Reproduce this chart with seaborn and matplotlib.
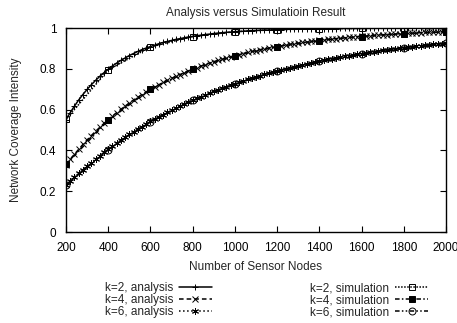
import numpy as np
import pandas as pd
import seaborn as sns
import matplotlib.pyplot as plt

# analysis curves, one point every 20 nodes from 200 to 2000
nodes_analysis = list(range(200, 2001, 20))
k2_analysis = [0.551, 0.585, 0.617, 0.647, 0.674, 0.699, 0.722, 0.743, 0.763, 0.781,
               0.798, 0.814, 0.828, 0.841, 0.853, 0.865, 0.875, 0.885, 0.894, 0.902,
               0.909, 0.916, 0.923, 0.929, 0.934, 0.939, 0.944, 0.948, 0.952, 0.956,
               0.959, 0.962, 0.965, 0.968, 0.970, 0.973, 0.975, 0.977, 0.979, 0.980,
               0.982, 0.983, 0.984, 0.986, 0.987, 0.988, 0.989, 0.990, 0.990, 0.991,
               0.992, 0.992, 0.993, 0.994, 0.994, 0.995, 0.995, 0.995, 0.996, 0.996,
               0.996, 0.997, 0.997, 0.997, 0.997, 0.998, 0.998, 0.998, 0.998, 0.998,
               0.998, 0.998, 0.999, 0.999, 0.999, 0.999, 0.999, 0.999, 0.999, 0.999,
               0.999, 0.999, 0.999, 0.999, 1.000, 1.000, 1.000, 1.000, 1.000, 1.000, 1.000]
k4_analysis = [0.330, 0.356, 0.381, 0.405, 0.429, 0.451, 0.473, 0.493, 0.513, 0.532,
               0.551, 0.568, 0.585, 0.601, 0.617, 0.632, 0.647, 0.660, 0.674, 0.687,
               0.699, 0.711, 0.722, 0.733, 0.743, 0.753, 0.763, 0.772, 0.781, 0.790,
               0.798, 0.806, 0.814, 0.821, 0.828, 0.835, 0.841, 0.847, 0.853, 0.859,
               0.865, 0.870, 0.875, 0.880, 0.885, 0.889, 0.894, 0.898, 0.902, 0.906,
               0.909, 0.913, 0.916, 0.920, 0.923, 0.926, 0.929, 0.931, 0.934, 0.937,
               0.939, 0.942, 0.944, 0.946, 0.948, 0.950, 0.952, 0.954, 0.956, 0.958,
               0.959, 0.961, 0.962, 0.964, 0.965, 0.967, 0.968, 0.969, 0.970, 0.972,
               0.973, 0.974, 0.975, 0.976, 0.977, 0.978, 0.979, 0.979, 0.980, 0.981, 0.982]
k6_analysis = [0.229, 0.249, 0.268, 0.287, 0.305, 0.323, 0.340, 0.357, 0.374, 0.390,
               0.405, 0.421, 0.436, 0.450, 0.464, 0.478, 0.491, 0.504, 0.517, 0.530,
               0.542, 0.553, 0.565, 0.576, 0.587, 0.597, 0.608, 0.618, 0.628, 0.637,
               0.647, 0.656, 0.664, 0.673, 0.681, 0.690, 0.697, 0.705, 0.713, 0.720,
               0.727, 0.734, 0.741, 0.748, 0.754, 0.761, 0.767, 0.773, 0.779, 0.784,
               0.790, 0.795, 0.801, 0.806, 0.811, 0.815, 0.820, 0.825, 0.829, 0.834,
               0.838, 0.842, 0.846, 0.850, 0.854, 0.858, 0.861, 0.865, 0.868, 0.871,
               0.875, 0.878, 0.881, 0.884, 0.887, 0.890, 0.893, 0.896, 0.898, 0.901,
               0.904, 0.906, 0.909, 0.911, 0.913, 0.915, 0.918, 0.920, 0.922, 0.924, 0.926]

# simulation points every 200 nodes
nodes_sim = [200, 400, 600, 800, 1000, 1200, 1400, 1600, 1800, 2000]
k2_sim = [0.552, 0.795, 0.907, 0.958, 0.982, 0.992, 0.996, 0.998, 0.999, 1.000]
k4_sim = [0.331, 0.547, 0.700, 0.797, 0.864, 0.908, 0.938, 0.958, 0.972, 0.981]
k6_sim = [0.230, 0.404, 0.541, 0.646, 0.727, 0.790, 0.838, 0.875, 0.903, 0.925]

xticks = [200, 400, 600, 800, 1000, 1200, 1400, 1600, 1800, 2000]
yticks = [0, 0.2, 0.4, 0.6, 0.8, 1]
ytick_labels = ['0', '0.2', '0.4', '0.6', '0.8', '1']

FS = 8.5
sns.set_style('ticks')
plt.rcParams['font.family'] = ['Liberation Sans', 'DejaVu Sans']
plt.rcParams['font.size'] = FS

fig = plt.figure(figsize=(4.57, 3.23), dpi=100)
ax = fig.add_axes([0.1444, 0.2817, 0.8315, 0.6316])

series = [
    ('k=2, analysis', nodes_analysis, k2_analysis, '-', '+', 'none'),
    ('k=4, analysis', nodes_analysis, k4_analysis, (0, (3, 2)), 'x', 'none'),
    ('k=6, analysis', nodes_analysis, k6_analysis, ':', (6, 2, 0), 'none'),
    ('k=2, simulation', nodes_sim, k2_sim, (0, (1, 1)), 's', 'none'),
    ('k=4, simulation', nodes_sim, k4_sim, (0, (3, 1.5, 1, 1.5)), 's', 'black'),
    ('k=6, simulation', nodes_sim, k6_sim, (0, (3, 1.5, 1, 1.5, 1, 1.5)), 'o', 'none'),
]

handles = []
for label, xs, ys, ls, mk, fc in series:
    df = pd.DataFrame({'nodes': xs, 'coverage': ys})
    sns.lineplot(data=df, x='nodes', y='coverage', ax=ax, color='black',
                 linestyle=ls, linewidth=1.1, marker=mk, markersize=5,
                 markerfacecolor=fc, markeredgecolor='black', markeredgewidth=0.7,
                 label=label, legend=False)
    handles.append(ax.lines[-1])

ax.set_xlim(200, 2000)
ax.set_ylim(0, 1)
ax.set_xticks(xticks)
ax.set_yticks(yticks)
ax.set_yticklabels(ytick_labels)
ax.tick_params(direction='in', top=True, right=True, length=4, width=0.8,
               labelsize=FS, colors='black', pad=7)
for s in ax.spines.values():
    s.set_linewidth(1.0)
    s.set_color('black')

ax.set_title('Analysis versus Simulatioin Result', fontsize=FS, pad=9)
ax.set_xlabel('Number of Sensor Nodes', fontsize=FS, labelpad=5)
ax.set_ylabel('Network Coverage Intensity', fontsize=FS, labelpad=13)

for group, xpos in [(handles[:3], 0.474), (handles[3:], 0.947)]:
    leg = fig.legend(handles=group, labels=[h.get_label() for h in group],
                     loc='upper right', bbox_to_anchor=(xpos, 0.141),
                     frameon=False, markerfirst=False, numpoints=1,
                     handlelength=2.8, handletextpad=0.5, labelspacing=0.0,
                     fontsize=FS, borderaxespad=0)
    for t in leg.get_texts():
        t.set_ha('right')

fig.savefig('out.png', dpi=100)
